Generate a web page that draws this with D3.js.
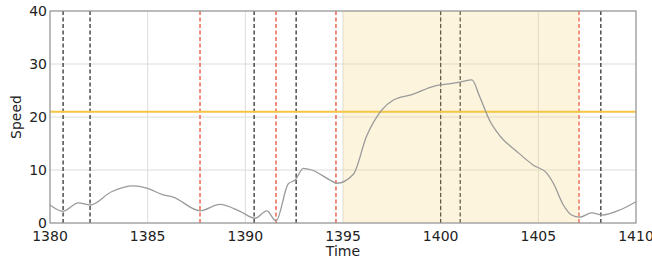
<!DOCTYPE html>
<html>
<head>
<meta charset="utf-8">
<script src="https://cdn.jsdelivr.net/npm/d3@7"></script>
<style>
  body { margin: 0; background: #fff; }
  text { font-family: "DejaVu Sans", sans-serif; }
</style>
</head>
<body>
<script>
// speed trace (time, speed)
var times = [1380, 1380.67, 1381.45, 1382.05, 1383.15, 1384.27, 1384.95, 1385.8, 1386.3, 1387.68,
  1388.7, 1389.73, 1390.5, 1391.1, 1391.57, 1392.2, 1392.55, 1392.97, 1393.4, 1394.34,
  1394.68, 1395.53, 1396.2, 1396.98, 1397.58, 1398.6, 1399.63, 1400.3, 1401.0, 1401.6,
  1402.0, 1402.5, 1403.0, 1403.9, 1404.75, 1405.43, 1405.77, 1406.28, 1406.7, 1407.1,
  1407.73, 1408.25, 1409.2, 1410];
var speeds = [3.4, 2.2, 3.8, 3.4, 5.9, 7.0, 6.6, 5.3, 4.9, 2.3,
  3.5, 2.2, 0.9, 2.3, 0.4, 7.4, 8.1, 10.3, 10.0, 8.1,
  7.5, 9.2, 16.3, 21.3, 23.2, 24.3, 25.8, 26.2, 26.6, 27.0,
  23.8, 19.4, 16.6, 13.5, 10.9, 9.4, 7.5, 3.4, 1.5, 1.1,
  1.9, 1.5, 2.5, 4.0];

var blackLines = [1380.67, 1382.05, 1390.45, 1392.6, 1400.0, 1401.0, 1408.2];
var redLines = [1387.68, 1391.57, 1394.64, 1407.08];
var spanStart = 1395.0, spanEnd = 1407.08;
var threshold = 21;

var xTicks = [1380, 1385, 1390, 1395, 1400, 1405, 1410];
var yTicks = [0, 10, 20, 30, 40];

var width = 652, height = 260;
var margin = {left: 50, right: 16, top: 11, bottom: 37};

var svg = d3.select('body').append('svg')
  .attr('width', width)
  .attr('height', height);

var x = d3.scaleLinear().domain([1380, 1410]).range([margin.left, width - margin.right]);
var y = d3.scaleLinear().domain([0, 40]).range([height - margin.bottom, margin.top]);

// grid
svg.append('g').selectAll('line.gx')
  .data(xTicks).enter().append('line')
    .attr('x1', d => x(d)).attr('x2', d => x(d))
    .attr('y1', y(0)).attr('y2', y(40))
    .attr('stroke', '#dcdcdc').attr('stroke-width', 1);
svg.append('g').selectAll('line.gy')
  .data(yTicks).enter().append('line')
    .attr('x1', x(1380)).attr('x2', x(1410))
    .attr('y1', d => y(d)).attr('y2', d => y(d))
    .attr('stroke', '#dcdcdc').attr('stroke-width', 1);

// event markers
svg.append('g').selectAll('line')
  .data(blackLines).enter().append('line')
    .attr('x1', d => x(d)).attr('x2', d => x(d))
    .attr('y1', y(0)).attr('y2', y(40))
    .attr('stroke', '#222').attr('stroke-width', 1.2)
    .attr('stroke-dasharray', '4,2.5');
svg.append('g').selectAll('line')
  .data(redLines).enter().append('line')
    .attr('x1', d => x(d)).attr('x2', d => x(d))
    .attr('y1', y(0)).attr('y2', y(40))
    .attr('stroke', '#e8402a').attr('stroke-width', 1.2)
    .attr('stroke-dasharray', '4,2.5');

// shaded span
svg.append('rect')
  .attr('x', x(spanStart))
  .attr('y', y(40))
  .attr('width', x(spanEnd) - x(spanStart))
  .attr('height', y(0) - y(40))
  .attr('fill', '#f9d984')
  .attr('opacity', 0.28);

// threshold
svg.append('line')
  .attr('x1', x(1380)).attr('x2', x(1410))
  .attr('y1', y(threshold)).attr('y2', y(threshold))
  .attr('stroke', '#f5c543').attr('stroke-width', 2);

// speed line
var line = d3.line()
  .x((d, i) => x(times[i]))
  .y(d => y(d))
  .curve(d3.curveMonotoneX);
svg.append('path')
  .datum(speeds)
  .attr('d', line)
  .attr('fill', 'none')
  .attr('stroke', '#9a9a9a')
  .attr('stroke-width', 1.3);

// frame
svg.append('rect')
  .attr('x', x(1380)).attr('y', y(40))
  .attr('width', x(1410) - x(1380)).attr('height', y(0) - y(40))
  .attr('fill', 'none').attr('stroke', '#999').attr('stroke-width', 1.2);

// tick labels
svg.append('g').selectAll('text')
  .data(xTicks).enter().append('text')
    .attr('x', d => x(d)).attr('y', y(0) + 18)
    .attr('text-anchor', 'middle')
    .attr('font-size', 14).attr('fill', '#222')
    .text(d => d);
svg.append('g').selectAll('text')
  .data(yTicks).enter().append('text')
    .attr('x', x(1380) - 3).attr('y', d => y(d) + 5)
    .attr('text-anchor', 'end')
    .attr('font-size', 14).attr('fill', '#222')
    .text(d => d);

// axis titles
svg.append('text')
  .attr('x', x(1395)).attr('y', 256)
  .attr('text-anchor', 'middle')
  .attr('font-size', 14).attr('fill', '#222')
  .text('Time');
svg.append('text')
  .attr('transform', 'translate(21,' + y(20) + ') rotate(-90)')
  .attr('text-anchor', 'middle')
  .attr('font-size', 14).attr('fill', '#222')
  .text('Speed');
</script>
</body>
</html>
